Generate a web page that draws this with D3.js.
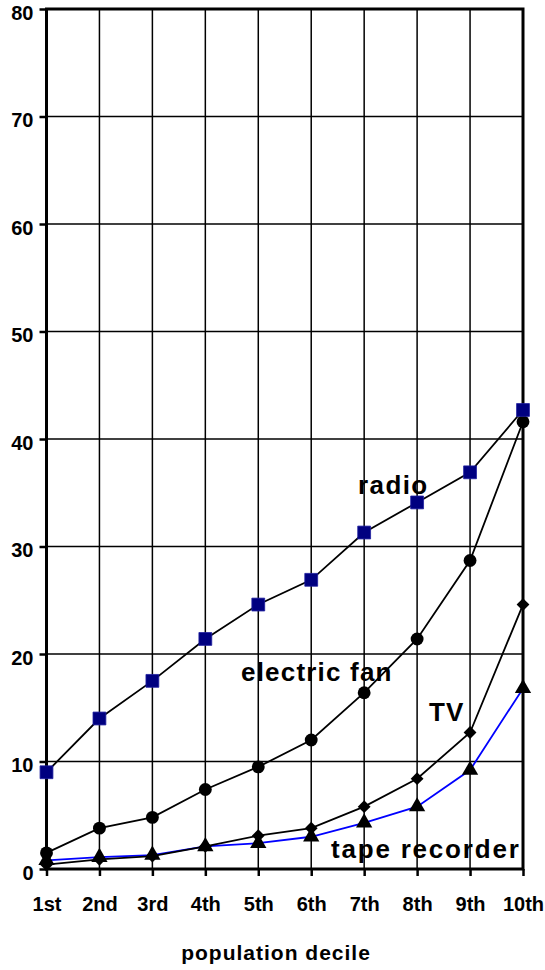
<!DOCTYPE html>
<html>
<head>
<meta charset="utf-8">
<script src="https://cdn.jsdelivr.net/npm/d3@7/dist/d3.min.js"></script>
<style>
  body { margin: 0; background: #fff; }
  text { font-family: "Liberation Sans", Arial, sans-serif; font-weight: bold; fill: #000; }
</style>
</head>
<body>
<svg id="chart" width="545" height="970"></svg>
<script>
const deciles = ["1st", "2nd", "3rd", "4th", "5th", "6th", "7th", "8th", "9th", "10th"];
const yTicks = [0, 10, 20, 30, 40, 50, 60, 70, 80];

const radio = [9.0, 14.0, 17.5, 21.4, 24.6, 26.9, 31.3, 34.1, 36.9, 42.7];
const electricFan = [1.5, 3.8, 4.8, 7.4, 9.5, 12.0, 16.4, 21.4, 28.7, 41.6];
const tv = [0.4, 0.9, 1.2, 2.1, 3.1, 3.8, 5.8, 8.4, 12.7, 24.6];
const tapeRecorder = [0.8, 1.1, 1.3, 2.1, 2.4, 3.0, 4.3, 5.8, 9.2, 16.8];

const width = 545;
const height = 970;
const margin = { left: 46.5, right: 22, top: 9, bottom: 101 };

const svg = d3.select("#chart");

const x = d3.scalePoint()
    .domain(deciles)
    .range([margin.left, width - margin.right]);

const y = d3.scaleLinear()
    .domain([0, 80])
    .range([height - margin.bottom, margin.top]);

// gridlines
svg.append("g")
    .selectAll("line")
    .data(yTicks)
    .join("line")
    .attr("x1", margin.left).attr("x2", width - margin.right)
    .attr("y1", d => y(d)).attr("y2", d => y(d))
    .attr("stroke", "#000").attr("stroke-width", 1.5);

svg.append("g")
    .selectAll("line")
    .data(deciles)
    .join("line")
    .attr("x1", d => x(d)).attr("x2", d => x(d))
    .attr("y1", y(0)).attr("y2", y(80))
    .attr("stroke", "#000").attr("stroke-width", 1.5);

// frame
svg.append("rect")
    .attr("x", margin.left).attr("y", margin.top)
    .attr("width", width - margin.right - margin.left)
    .attr("height", y(0) - margin.top)
    .attr("fill", "none")
    .attr("stroke", "#000").attr("stroke-width", 3);

// axes
function styleAxis(g) {
    g.select(".domain").remove();
    g.selectAll(".tick line").attr("stroke", "#000").attr("stroke-width", 2.5);
    g.selectAll(".tick text")
        .attr("font-size", 20)
        .attr("font-family", "Liberation Sans, Arial, sans-serif")
        .attr("font-weight", "bold")
        .attr("fill", "#000");
}

svg.append("g")
    .attr("transform", `translate(${margin.left},0)`)
    .call(d3.axisLeft(y).tickValues(yTicks).tickSize(7).tickPadding(6))
    .call(styleAxis)
    .selectAll(".tick text").attr("dy", "0.52em");

svg.append("g")
    .attr("transform", `translate(0,${y(0)})`)
    .call(d3.axisBottom(x).tickSize(7).tickPadding(21))
    .call(styleAxis);

svg.append("text")
    .attr("x", 276).attr("y", 960)
    .attr("text-anchor", "middle")
    .attr("font-size", 21)
    .attr("letter-spacing", 1)
    .text("population decile");

// series
const line = d3.line()
    .x((d, i) => x(deciles[i]))
    .y(d => y(d));

const series = [
    { name: "tape recorder", values: tapeRecorder, stroke: "#0000ff", symbol: d3.symbolTriangle, size: 115, rot: 0, fill: "#000" },
    { name: "TV", values: tv, stroke: "#000", symbol: d3.symbolSquare, size: 82, rot: 45, fill: "#000" },
    { name: "electric fan", values: electricFan, stroke: "#000", symbol: d3.symbolCircle, size: 130, rot: 0, fill: "#000" },
    { name: "radio", values: radio, stroke: "#000", symbol: d3.symbolSquare, size: 165, rot: 0, fill: "#000080" }
];

series.forEach(s => {
    svg.append("path")
        .datum(s.values)
        .attr("d", line)
        .attr("fill", "none")
        .attr("stroke", s.stroke)
        .attr("stroke-width", 1.8);
});

series.forEach(s => {
    svg.append("g")
        .selectAll("path")
        .data(s.values)
        .join("path")
        .attr("transform", (d, i) => `translate(${x(deciles[i])},${y(d)}) rotate(${s.rot})`)
        .attr("d", d3.symbol().type(s.symbol).size(s.size))
        .attr("fill", s.fill)
        .attr("stroke", s.fill === "#000080" ? "#2020a0" : "none")
        .attr("stroke-width", 0.8);
});

// series labels
const labels = [
    { text: "radio", x: 358, y: 494, ls: 1.4 },
    { text: "electric fan", x: 241, y: 681, ls: 1.2 },
    { text: "TV", x: 429, y: 721, ls: 1.2 },
    { text: "tape recorder", x: 331, y: 858, ls: 1.8 }
];

svg.append("g")
    .selectAll("text")
    .data(labels)
    .join("text")
    .attr("x", d => d.x).attr("y", d => d.y)
    .attr("font-size", 26)
    .attr("letter-spacing", d => d.ls)
    .text(d => d.text);
</script>
</body>
</html>
